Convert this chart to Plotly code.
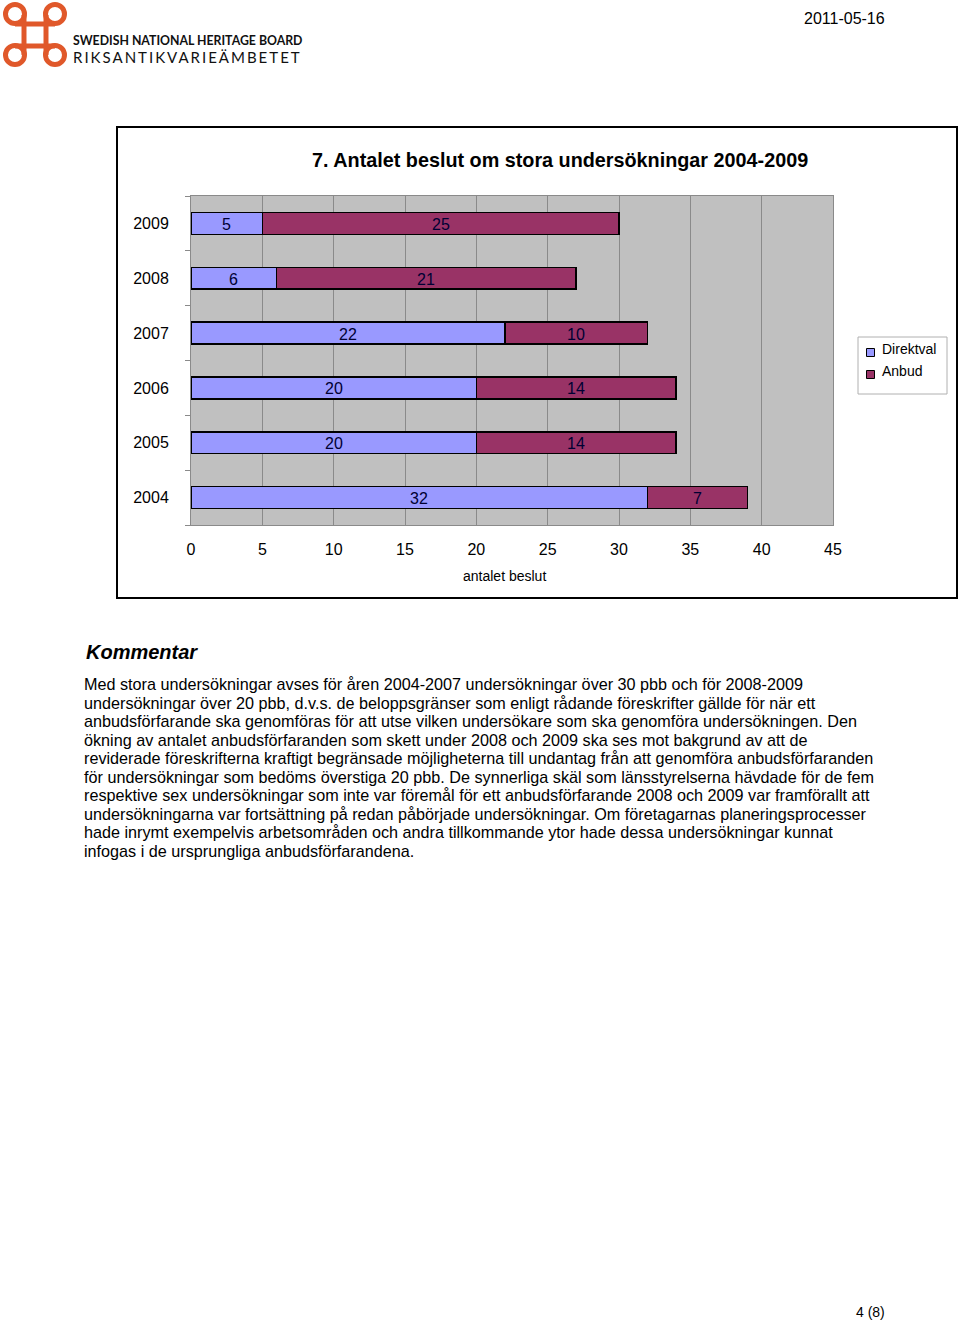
import plotly.graph_objects as go

W, H = 960, 1322
FONT = "Liberation Sans, Arial, sans-serif"

years = ["2004", "2005", "2006", "2007", "2008", "2009"]
direktval = [32, 20, 20, 22, 6, 5]
anbud = [7, 14, 14, 10, 21, 25]
x_ticks = [0, 5, 10, 15, 20, 25, 30, 35, 40, 45]
series_names = ["Direktval", "Anbud"]
series_colors = ["#9999ff", "#993366"]

title = "7. Antalet beslut om stora undersökningar 2004-2009"
x_title = "antalet beslut"
comment_head = "Kommentar"
comment_lines = [
    "Med stora undersökningar avses för åren 2004-2007 undersökningar över 30 pbb och för 2008-2009",
    "undersökningar över 20 pbb, d.v.s. de beloppsgränser som enligt rådande föreskrifter gällde för när ett",
    "anbudsförfarande ska genomföras för att utse vilken undersökare som ska genomföra undersökningen. Den",
    "ökning av antalet anbudsförfaranden som skett under 2008 och 2009 ska ses mot bakgrund av att de",
    "reviderade föreskrifterna kraftigt begränsade möjligheterna till undantag från att genomföra anbudsförfaranden",
    "för undersökningar som bedöms överstiga 20 pbb. De synnerliga skäl som länsstyrelserna hävdade för de fem",
    "respektive sex undersökningar som inte var föremål för ett anbudsförfarande 2008 och 2009 var framförallt att",
    "undersökningarna var fortsättning på redan påbörjade undersökningar. Om företagarnas planeringsprocesser",
    "hade inrymt exempelvis arbetsområden och andra tillkommande ytor hade dessa undersökningar kunnat",
    "infogas i de ursprungliga anbudsförfarandena.",
]


def px(x):
    return x / W


def py(y):
    return 1 - y / H


fig = go.Figure()
for name, vals, col in [(series_names[0], direktval, series_colors[0]),
                        (series_names[1], anbud, series_colors[1])]:
    fig.add_trace(go.Bar(
        y=years, x=vals, name=name, orientation="h",
        marker=dict(color=col, line=dict(color="#000000", width=1.5)),
        hoverinfo="skip", showlegend=False,
    ))

shapes = []
annotations = []

# value labels, centred in each segment (positions computed from the data)
for idx, (yr, d, a) in enumerate(zip(years, direktval, anbud)):
    for xv, t in [(d / 2, d), (d + a / 2, a)]:
        annotations.append(dict(text=str(t), x=xv, y=idx, xref="x", yref="y",
                                xanchor="center", yanchor="middle", showarrow=False,
                                yshift=-1,
                                font=dict(family=FONT, size=16, color="#000033")))

# chart frame
shapes.append(dict(type="rect", xref="paper", yref="paper",
                   x0=px(117), x1=px(957), y0=py(598), y1=py(127),
                   line=dict(color="#000000", width=2), layer="below"))

# legend (manual)
shapes.append(dict(type="rect", xref="paper", yref="paper",
                   x0=px(858), x1=px(947), y0=py(394), y1=py(337),
                   line=dict(color="#b0b0b0", width=1), fillcolor="#ffffff"))
for i, (name, col) in enumerate(zip(series_names, series_colors)):
    cy = 352.5 + i * 22
    shapes.append(dict(type="rect", xref="paper", yref="paper",
                       x0=px(866.5), x1=px(874.5), y0=py(cy + 4), y1=py(cy - 4),
                       line=dict(color="#000000", width=1), fillcolor=col))
    annotations.append(dict(text=name, x=px(880), y=py(cy - 3.5), xref="paper", yref="paper",
                            xanchor="left", yanchor="middle", showarrow=False,
                            font=dict(family=FONT, size=14, color="#000000")))

# logo (approximate knot)
OR = "#e0582a"
for cx, cy in [(15, 14), (55, 14), (15, 55), (55, 55)]:
    r = 9.5
    shapes.append(dict(type="circle", xref="paper", yref="paper",
                       x0=px(cx - r), x1=px(cx + r), y0=py(cy + r), y1=py(cy - r),
                       line=dict(color=OR, width=5)))
for (x0, y0, x1, y1) in [(24, 15, 24, 55), (46, 15, 46, 55),
                          (15, 24, 55, 24), (15, 46, 55, 46)]:
    shapes.append(dict(type="line", xref="paper", yref="paper",
                       x0=px(x0), x1=px(x1), y0=py(y0), y1=py(y1),
                       line=dict(color=OR, width=5)))

annotations.append(dict(text="<b>SWEDISH NATIONAL HERITAGE BOARD</b>",
                        x=px(71), y=py(41), xref="paper", yref="paper",
                        xanchor="left", yanchor="middle", showarrow=False,
                        font=dict(family="Lato", size=12.3, color="#111111")))
annotations.append(dict(text="<span style='letter-spacing:2px'>RIKSANTIKVARIEÄMBETET</span>",
                        x=px(71), y=py(57), xref="paper", yref="paper",
                        xanchor="left", yanchor="middle", showarrow=False,
                        font=dict(family="Lato", size=15, color="#111111")))

annotations.append(dict(text="2011-05-16", x=px(887), y=py(18), xref="paper", yref="paper",
                        xanchor="right", yanchor="middle", showarrow=False,
                        font=dict(family=FONT, size=16, color="#000000")))
annotations.append(dict(text="4 (8)", x=px(887), y=py(1312), xref="paper", yref="paper",
                        xanchor="right", yanchor="middle", showarrow=False,
                        font=dict(family=FONT, size=14, color="#000000")))

annotations.append(dict(text="<b>" + title + "</b>", x=px(560), y=py(160),
                        xref="paper", yref="paper", xanchor="center", yanchor="middle",
                        showarrow=False, font=dict(family=FONT, size=19.8, color="#000000")))
annotations.append(dict(text=x_title, x=px(505), y=py(576), xref="paper", yref="paper",
                        xanchor="center", yanchor="middle", showarrow=False,
                        font=dict(family=FONT, size=14, color="#000000")))

annotations.append(dict(text="<b><i>" + comment_head + "</i></b>", x=px(84), y=py(652),
                        xref="paper", yref="paper", xanchor="left", yanchor="middle",
                        showarrow=False, font=dict(family=FONT, size=20, color="#000000")))
for i, line in enumerate(comment_lines):
    annotations.append(dict(text=line, x=px(82), y=py(684 + i * 18.55),
                            xref="paper", yref="paper", xanchor="left", yanchor="middle",
                            showarrow=False, font=dict(family=FONT, size=16.2, color="#000000")))

fig.update_layout(
    width=W, height=H, autosize=False,
    margin=dict(l=0, r=0, t=0, b=0, pad=0, autoexpand=False),
    paper_bgcolor="#ffffff",
    plot_bgcolor="#c0c0c0",
    barmode="stack",
    bargap=0.6,
    font=dict(family=FONT, size=16, color="#000000"),
    showlegend=False,
    xaxis=dict(domain=[px(191), px(833)], range=[0, 45], tickvals=x_ticks,
               showgrid=True, gridcolor="#8a8a8a", gridwidth=1,
               showline=True, linecolor="#8a8a8a", mirror=True,
               zeroline=False, ticks="", ticklabelstandoff=10, automargin=False,
               tickfont=dict(family=FONT, size=16, color="#000000"),
               fixedrange=True),
    yaxis=dict(domain=[py(525), py(196)], type="category",
               categoryorder="array", categoryarray=years,
               range=[-0.5, len(years) - 0.5], autorange=False,
               showgrid=False, showline=True, linecolor="#8a8a8a", mirror=True,
               ticks="outside", ticklen=5, tickcolor="#8a8a8a",
               tickson="boundaries", ticklabelstandoff=18, automargin=False,
               tickfont=dict(family=FONT, size=16, color="#000000"),
               fixedrange=True),
    shapes=shapes,
    annotations=annotations,
)

fig.write_html("out.html", config={"responsive": False, "displayModeBar": False})
